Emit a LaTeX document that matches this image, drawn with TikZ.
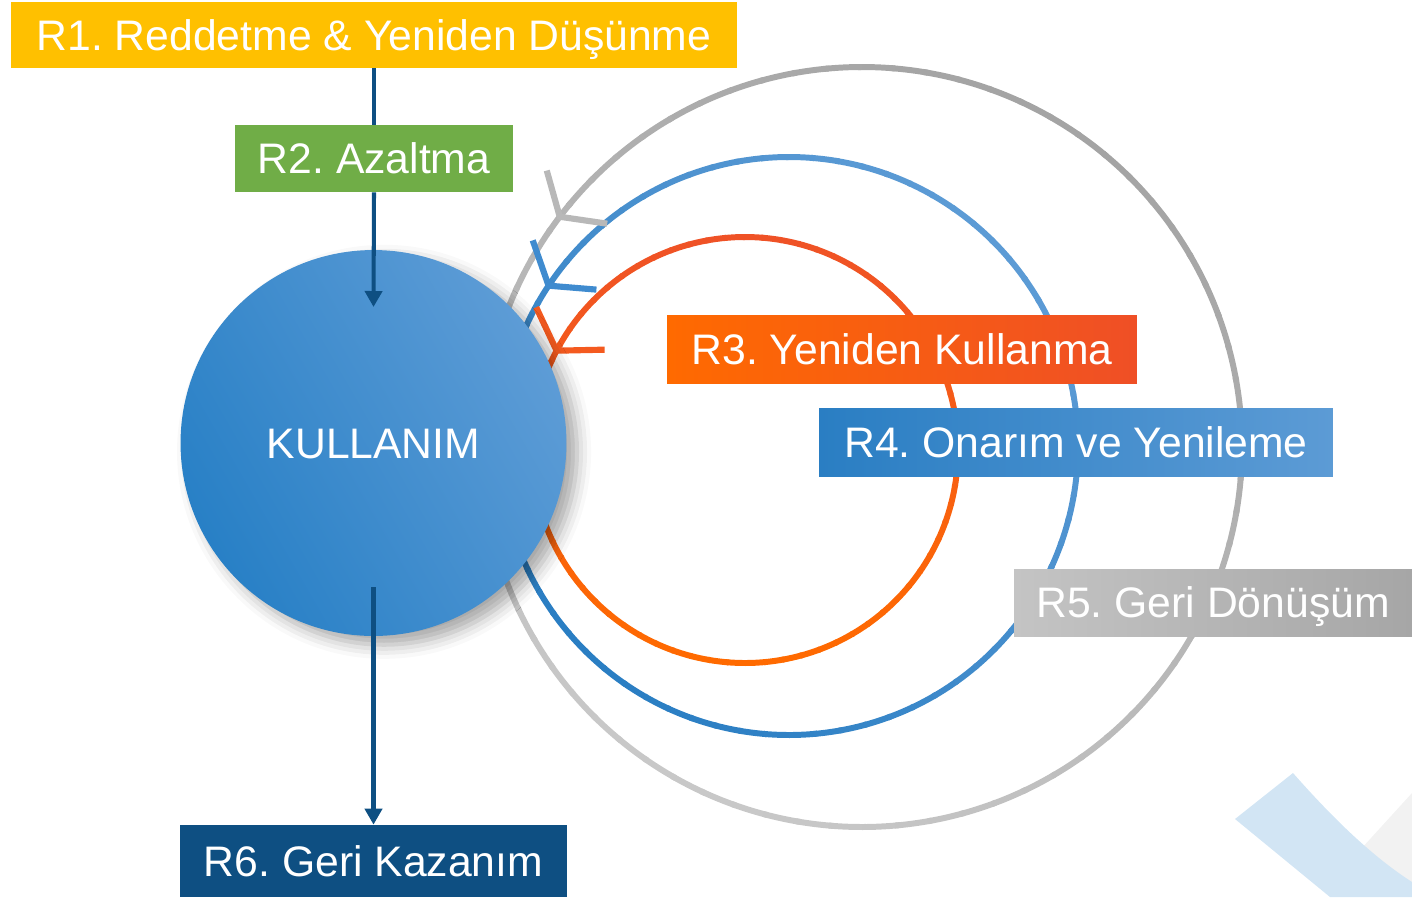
\documentclass[tikz,border=0pt]{standalone}
\usepackage{fontspec}
\setmainfont{Liberation Sans}
\usetikzlibrary{arrows.meta,shadows.blur,calc}
\definecolor{yel}{HTML}{FFC000}
\definecolor{grn}{HTML}{70AD47}
\definecolor{darkb}{HTML}{0E4F82}
\definecolor{orL}{HTML}{FF6A00}
\definecolor{orR}{HTML}{EF4F26}
\definecolor{blL}{HTML}{2A7EC3}
\definecolor{blR}{HTML}{5C9BD5}
\definecolor{grL}{HTML}{C4C4C4}
\definecolor{grR}{HTML}{A6A6A6}
\definecolor{rgA}{HTML}{A4A4A4}
\definecolor{rgB}{HTML}{C8C8C8}
\definecolor{rbA}{HTML}{5C9BD5}
\definecolor{rbB}{HTML}{2A7EC3}
\definecolor{roA}{HTML}{EF5226}
\definecolor{roB}{HTML}{FF6A00}
\definecolor{chevgray}{HTML}{B8B8B8}
\definecolor{chevblue}{HTML}{3F8BCF}
\definecolor{chevorange}{HTML}{F45A1F}
\definecolor{decoblue}{HTML}{D2E5F4}
\definecolor{decogray}{HTML}{F2F2F2}
\definecolor{circL}{HTML}{5D9CD6}
\definecolor{circD}{HTML}{2880C6}
\tikzset{
  lbl/.style={inner sep=0pt, text=white, font=\fontsize{24.3}{28}\selectfont, text height=17.4pt, text depth=0pt},
  chev/.style={line width=3.5pt, line join=miter, line cap=butt},
  conn/.style={draw=darkb, line width=2.3pt},
  tip/.style={-{Triangle[width=0.34cm,length=0.32cm]}}
}
\frenchspacing
\begin{document}
\begin{tikzpicture}[x=0.02cm,y=0.02cm]
\useasboundingbox (0,0) rectangle (1412,-897);
% corner decoration
\fill[decogray] (1340,-872) -- (1412,-793) -- (1412,-897) -- cycle;
\fill[decoblue] (1235,-819) -- (1293,-773) .. controls (1330,-815) and (1370,-855) .. (1412,-882) -- (1412,-897) -- (1330,-897) -- cycle;
% rings (drawn as short arcs to imitate the colour gradient)
\foreach \cx/\cy/\r/\ca/\cb/\pk in {862/447/380/rgA/rgB/60, 789/446/289/rbA/rbB/45, 745/450/213/roA/roB/90}{
  \foreach \a in {0,5,...,355}{
    \pgfmathsetmacro\p{50-50*cos(\a+2.5-\pk)}
    \draw[line width=3.4pt, draw=\cb!\p!\ca] (\cx,-\cy) ++(\a:\r) arc[start angle=\a, end angle=\a+5.6, radius=\r];
  }
}
% chevrons
\foreach \cx/\cy/\r/\t/\c in {862/447/380/142.7/chevgray, 789/446/289/146.3/chevblue, 745/450/213/152.2/chevorange}{
  \coordinate (tp) at ($(\cx,-\cy)+(\t:\r)$);
  \draw[chev, draw=\c] ($(tp)+({\t-37}:48)$) -- (tp) -- ($(tp)+({\t-151}:48)$);
}
% main circle
\node[circle, minimum size=7.72cm, inner sep=0pt, top color=circL, bottom color=circD, shading angle=-60,
      blur shadow={shadow xshift=6pt, shadow yshift=-5pt, shadow blur radius=8pt, shadow opacity=35},
      lbl] (use) at (373.5,-443) {KULLANIM};
% labels
\node[lbl, fill=yel, minimum width=14.52cm, minimum height=1.32cm] (r1) at (374,-35) {R1. Reddetme \& Yeniden Düşünme};
\node[lbl, fill=grn, minimum width=5.56cm, minimum height=1.34cm] (r2) at (374,-158.5) {R2. Azaltma};
\node[lbl, left color=orL, right color=orR, minimum width=9.4cm, minimum height=1.36cm] (r3) at (902,-349) {R3. Yeniden Kullanma};
\node[lbl, left color=blL, right color=blR, minimum width=10.28cm, minimum height=1.36cm] (r4) at (1076,-442) {R4. Onarım ve Yenileme};
\node[lbl, left color=grL, right color=grR, minimum width=7.96cm, minimum height=1.34cm] (r5) at (1213,-602.5) {R5. Geri Dönüşüm};
\node[lbl, fill=darkb, minimum width=7.74cm, minimum height=1.44cm] (r6) at (373.5,-861) {R6. Geri Kazanım};
% connectors
\coordinate (inA) at (373.5,-307);
\coordinate (outB) at (373.5,-587);
\draw[conn] (r1.south) -- (r2.north);
\draw[conn, tip, darkb] (r2.south) -- (inA);
\draw[conn, tip, darkb] (outB) -- (r6.north);
\end{tikzpicture}
\end{document}
